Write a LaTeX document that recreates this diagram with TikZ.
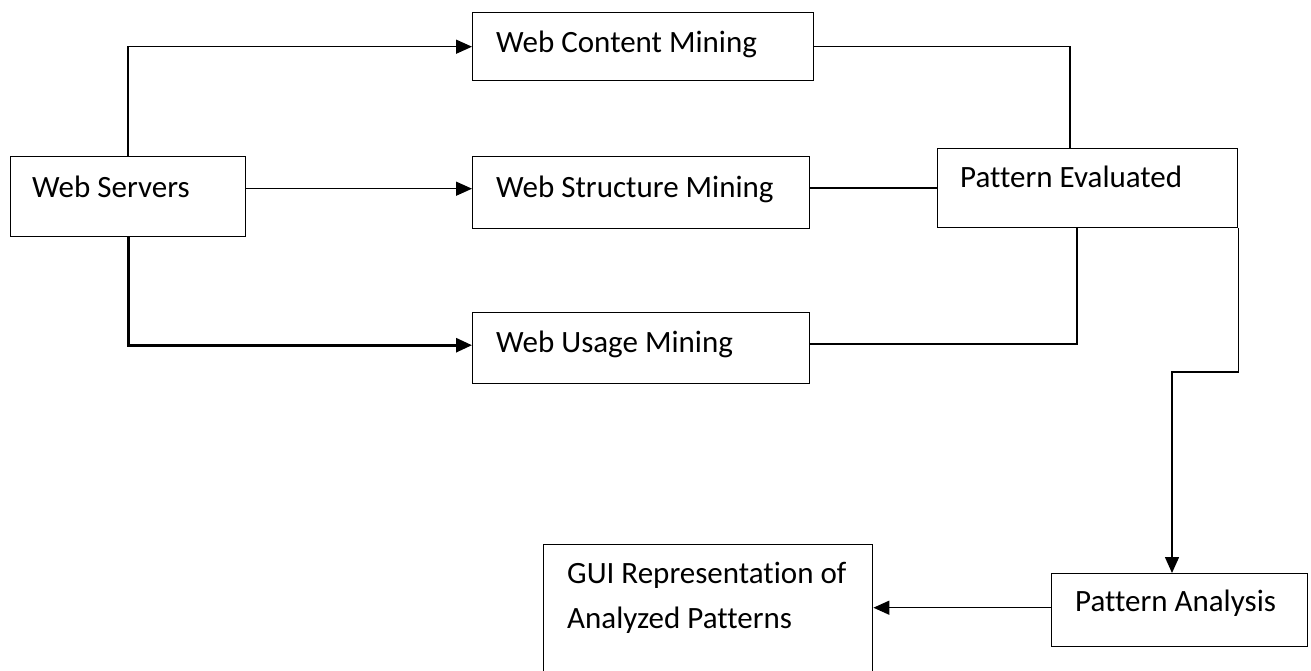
\documentclass[tikz,border=0pt]{standalone}
\usepackage{fontspec}
\setmainfont{Carlito}[Ligatures={NoCommon}]
\usetikzlibrary{arrows.meta,calc}
\begin{document}
\begin{tikzpicture}[x=1pt,y=-1pt,
  box/.style={draw, line width=1.4pt, inner sep=0pt, anchor=north west},
  lbl/.style={anchor=base west, inner sep=0pt, font=\fontsize{31}{37}\selectfont},
  conn/.style={line width=1.5pt},
  thickconn/.style={line width=2.8pt},
  tip/.style={-{Triangle[length=16pt,width=14pt]}},
]
\useasboundingbox (0,0) rectangle (1311,670);
\clip (0,0) rectangle (1311,670);
\fill[white] (0,0) rectangle (1311,670);

% boxes
\node[box, minimum width=235pt, minimum height=80pt] (ws) at (10,156) {};
\node[box, minimum width=341pt, minimum height=68pt] (wc) at (472,12) {};
\node[box, minimum width=337pt, minimum height=72pt] (wst) at (472,156) {};
\node[box, minimum width=337pt, minimum height=71pt] (wu) at (472,312) {};
\node[box, minimum width=300pt, minimum height=79pt] (pe) at (937,148) {};
\node[box, minimum width=256pt, minimum height=73pt] (pa) at (1051,573) {};
\node[box, minimum width=329pt, minimum height=160pt] (gui) at (543,544) {};

% labels
\node[lbl] (tws) at (32,197) {Web Servers};
\node[lbl] (twc) at (496,52) {Web Content Mining};
\node[lbl] (twst) at (496,197) {Web Structure Mining};
\node[lbl] (twu) at (496,352) {Web Usage Mining};
\node[lbl] (tpe) at (960,187) {Pattern Evaluated};
\node[lbl] (tpa) at (1075,611) {Pattern Analysis};
\node[lbl] (tgui1) at (567,583) {GUI Representation of};
\node[lbl] (tgui2) at (567,628) {Analyzed Patterns};

% connectors
\draw[conn, tip] (ws.north) |- (wc.west);
\draw[conn, tip] ([yshift=4pt]wst.west -| ws.east) -- ([yshift=4pt]wst.west);
\draw[thickconn, tip] (ws.south) |- ([yshift=3pt]wu.west);

\coordinate (c1) at (1070,46);
\draw[conn] (wc.east) -| (c1 |- pe.north);
\draw[conn] (pe.west -| wst.east) -- (pe.west);
\coordinate (c2) at (1077,344);
\draw[thickconn] (pe.south -| c2) |- (wu.east |- c2);
\coordinate (c3) at (1172,372);
\draw[conn, tip] (pe.south east) |- (c3) -- (c3 |- pa.north);
\draw[conn, tip] ([yshift=2.5pt]pa.west) -- ([yshift=2.5pt]pa.west -| gui.east);
\end{tikzpicture}
\end{document}
